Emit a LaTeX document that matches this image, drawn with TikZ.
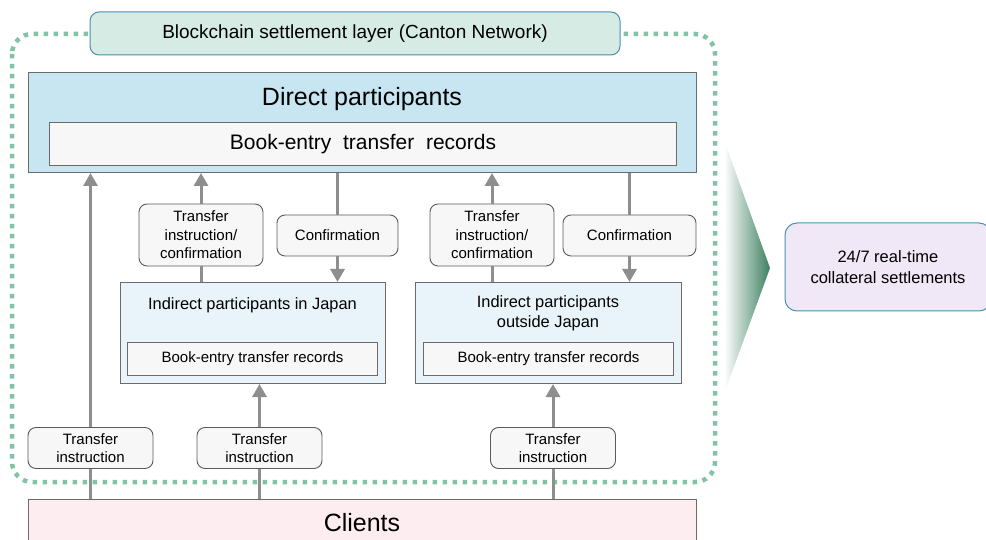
\documentclass[tikz,border=0pt]{standalone}
\usepackage{fontspec}
\setmainfont{Liberation Sans}
\usetikzlibrary{arrows.meta,calc}
\definecolor{dotgreen}{HTML}{82C3A6}
\definecolor{chainfill}{HTML}{D6EBE3}
\definecolor{blueborder}{HTML}{4A8FB0}
\definecolor{directfill}{HTML}{C8E6F1}
\definecolor{boxborder}{HTML}{6B6B6B}
\definecolor{innerfill}{HTML}{F7F7F7}
\definecolor{indirectfill}{HTML}{E8F4FA}
\definecolor{clientfill}{HTML}{FDEDF0}
\definecolor{resultfill}{HTML}{F0E8F6}
\definecolor{arrowgray}{HTML}{8E8E8E}
\definecolor{deepgreen}{HTML}{3D8060}
\tikzset{
  plainbox/.style={draw=boxborder, line width=1pt, inner sep=0pt, anchor=north west},
  labelbox/.style={draw=boxborder!85!black, line width=0.9pt, fill=innerfill, rounded corners=8pt,
     align=center, font=\fontsize{15}{18.5}\selectfont, inner sep=0pt},
  flow/.style={draw=arrowgray, line width=3pt},
  flowarrow/.style={flow, -{Triangle[width=14pt,length=13pt]}},
}
\begin{document}
\begin{tikzpicture}[x=1pt,y=-1pt]
\useasboundingbox (0,0) rectangle (986,540);
% dotted settlement layer frame
\draw[dotgreen, line width=4.5pt, dash pattern=on 4.5pt off 5.5pt, rounded corners=20pt]
  (12,34) rectangle (715,482);
% blockchain box
\node[draw=blueborder, line width=1pt, fill=chainfill, rounded corners=9pt, inner sep=0pt,
  minimum width=530pt, minimum height=43pt, font=\fontsize{19}{22}\selectfont] (chain) at (355,33.5)
  {Blockchain settlement layer (Canton Network)};
% direct participants
\path (28,72) node[plainbox, fill=directfill, minimum width=668pt, minimum height=100pt] (direct) {};
\node[font=\fontsize{25}{29}\selectfont] (directtitle) at (362,99) {Direct participants};
\path (49,122) node[plainbox, fill=innerfill, minimum width=627pt, minimum height=43pt,
  font=\fontsize{21}{24}\selectfont] (directrec) {Book-entry\ \ transfer\ \ records};
% indirect participants in Japan
\path (120,282) node[plainbox, fill=indirectfill, minimum width=265pt, minimum height=101pt] (japan) {};
\node[font=\fontsize{16.4}{19.5}\selectfont] (japantitle) at (252.5,305) {Indirect participants in Japan};
\path (127,342) node[plainbox, fill=innerfill, minimum width=250pt, minimum height=33pt,
  font=\fontsize{15}{18}\selectfont] (japanrec) {Book-entry transfer records};
% indirect participants outside Japan
\path (415,282) node[plainbox, fill=indirectfill, minimum width=266pt, minimum height=101pt] (outside) {};
\node[font=\fontsize{16.4}{19.5}\selectfont, align=center] (outsidetitle) at (548,313.5) {Indirect participants\\outside Japan};
\path (423,342) node[plainbox, fill=innerfill, minimum width=250pt, minimum height=33pt,
  font=\fontsize{15}{18}\selectfont] (outsiderec) {Book-entry transfer records};
% clients
\path (28,499) node[plainbox, fill=clientfill, minimum width=668pt, minimum height=60pt] (clients) {};
\node[font=\fontsize{25}{29}\selectfont] (clientstitle) at (362,523) {Clients};
% result
\shade[left color=white, right color=deepgreen] (724,140) -- (770,268) -- (724,394) -- cycle;
\node[draw=blueborder, line width=1pt, fill=resultfill, rounded corners=12pt, inner sep=0pt,
  minimum width=206pt, minimum height=88pt, align=center, font=\fontsize{16.5}{21}\selectfont]
  (result) at (888,267) {24/7 real-time\\collateral settlements};
% labels
\node[labelbox, minimum width=125pt, minimum height=41pt] (ti1) at (90.5,448) {Transfer\\instruction};
\node[labelbox, minimum width=125pt, minimum height=41pt] (ti2) at (259.5,448) {Transfer\\instruction};
\node[labelbox, minimum width=125pt, minimum height=41pt] (ti3) at (553,448) {Transfer\\instruction};
\node[labelbox, minimum width=124pt, minimum height=62pt] (tc1) at (201,235) {Transfer\\instruction/\\confirmation};
\node[labelbox, minimum width=124pt, minimum height=62pt] (tc2) at (492,235) {Transfer\\instruction/\\confirmation};
\node[labelbox, minimum width=121pt, minimum height=41pt] (cf1) at (337.5,235.5) {Confirmation};
\node[labelbox, minimum width=133pt, minimum height=41pt] (cf2) at (629.5,235.5) {Confirmation};
% flows
\draw[flow] (ti1.south |- clients.north) -- (ti1.south);
\draw[flowarrow] (ti1.north) -- (ti1.north |- direct.south);
\draw[flow] (ti2.south |- clients.north) -- (ti2.south);
\draw[flowarrow] (ti2.north) -- (ti2.north |- japan.south);
\draw[flow] (ti3.south |- clients.north) -- (ti3.south);
\draw[flowarrow] (ti3.north) -- (ti3.north |- outside.south);
\draw[flow] (tc1.south |- japan.north) -- (tc1.south);
\draw[flowarrow] (tc1.north) -- (tc1.north |- direct.south);
\draw[flow] (tc2.south |- outside.north) -- (tc2.south);
\draw[flowarrow] (tc2.north) -- (tc2.north |- direct.south);
\draw[flow] (cf1.north |- direct.south) -- (cf1.north);
\draw[flowarrow] (cf1.south) -- (cf1.south |- japan.north);
\draw[flow] (cf2.north |- direct.south) -- (cf2.north);
\draw[flowarrow] (cf2.south) -- (cf2.south |- outside.north);
\end{tikzpicture}
\end{document}
